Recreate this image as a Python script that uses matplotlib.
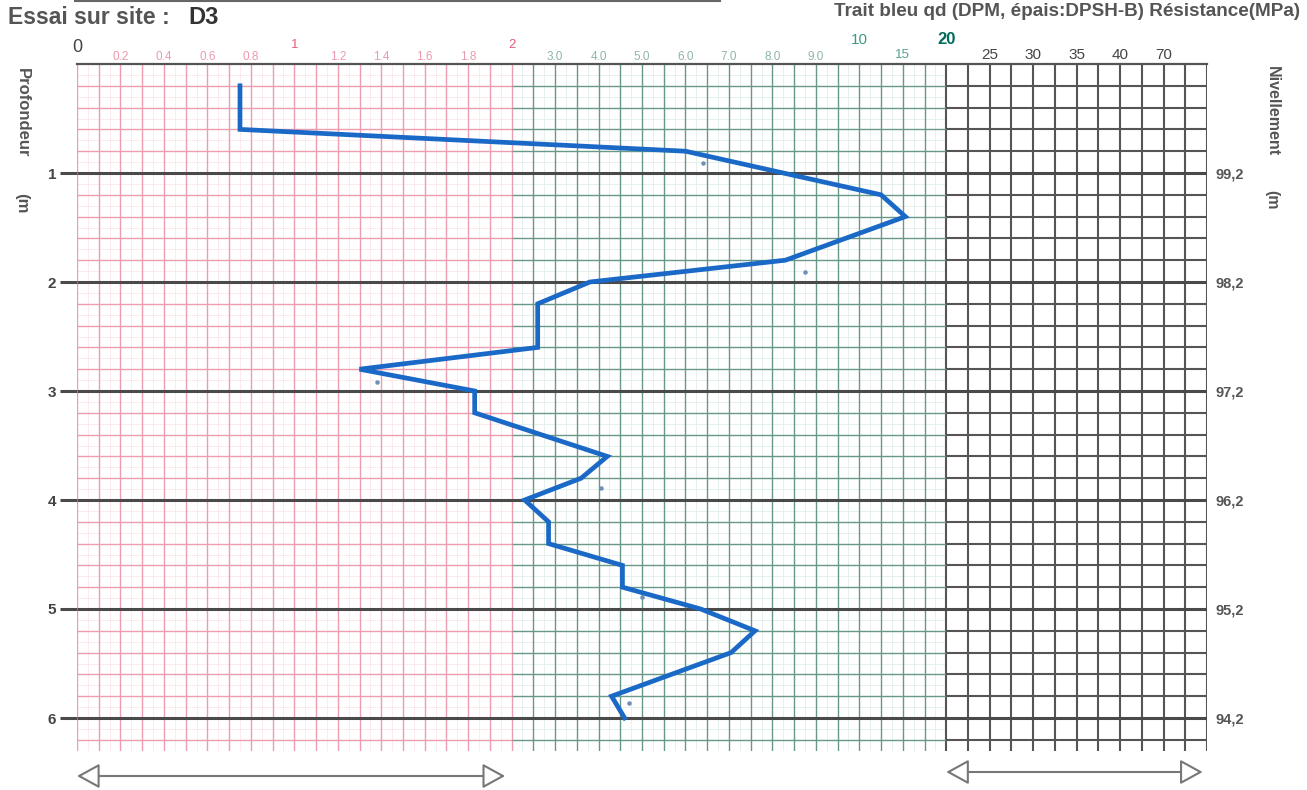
import numpy as np
import matplotlib.pyplot as plt
from matplotlib import transforms
from matplotlib.lines import Line2D

plt.rcParams['font.family'] = ['Liberation Sans', 'DejaVu Sans']

profondeur = [0.2, 0.6, 0.8, 1.2, 1.4, 1.8, 2.0, 2.2, 2.6, 2.8, 3.0, 3.2,
              3.6, 3.8, 4.0, 4.2, 4.4, 4.6, 4.8, 5.0, 5.2, 5.4, 5.8, 6.0]
qd = [0.75, 0.75, 6.0, 12.5, 15.3, 8.3, 3.8, 2.6, 2.6, 1.3, 1.83, 1.83,
      4.2, 3.6, 2.3, 2.85, 2.85, 4.55, 4.55, 6.35, 7.6, 7.05, 4.3, 4.6]

# petits points isolés
points_prof = [0.91, 1.91, 2.92, 3.89, 4.89, 5.86]
points_qd = [6.4, 8.75, 1.38, 4.05, 5.0, 4.7]

# graduations du haut
rose_val = [0.2, 0.4, 0.6, 0.8, 1.2, 1.4, 1.6, 1.8]
rose_lab = ['0.2', '0.4', '0.6', '0.8', '1.2', '1.4', '1.6', '1.8']
vert_val = [3, 4, 5, 6, 7, 8, 9]
vert_lab = ['3.0', '4.0', '5.0', '6.0', '7.0', '8.0', '9.0']
noir_val = [25, 30, 35, 40, 70]
noir_lab = ['25', '30', '35', '40', '70']

# profondeur / nivellement
prof_ticks = [1, 2, 3, 4, 5, 6]
niv_labels = ['99,2', '98,2', '97,2', '96,2', '95,2', '94,2']

# échelle de l'abaque : MPa -> nombre de cases
echelle_mpa = [0, 2, 10, 20, 40, 70, 100]
echelle_case = [0, 20, 36, 40, 48, 50, 52]


def fwd(v):
    return np.interp(v, echelle_mpa, echelle_case)


def inv(c):
    return np.interp(c, echelle_case, echelle_mpa)


W, H = 1307, 790
fig = plt.figure(figsize=(W / 100, H / 100), dpi=100)
x0, x1 = 77, 1207
y_top, pxm = 64, 109
ymax = 6.3
ax = fig.add_axes([x0 / W, 1 - (y_top + ymax * pxm) / H, (x1 - x0) / W, ymax * pxm / H])
ax.set_xscale('function', functions=(fwd, inv))
ax.set_xlim(0, 100)
ax.set_ylim(ymax, 0)

# --- quadrillage ---
cases = np.arange(0, 53)
demi = np.arange(0, 40) + 0.5
rose, rose_clair = '#ec9db0', '#fbe8ed'
vert, vert_clair = '#679888', '#e2efea'
gris = '#555555'

ax.vlines(inv(demi[demi < 20]), 0, ymax, color=rose_clair, lw=0.6, zorder=1)
ax.vlines(inv(demi[demi > 20]), 0, ymax, color=vert_clair, lw=0.6, zorder=1)
ax.vlines(inv(cases[cases <= 20]), 0, ymax, color=rose, lw=1.0, zorder=2)
ax.vlines(inv(cases[(cases > 20) & (cases < 40)]), 0, ymax, color=vert, lw=1.0, zorder=2)
ax.vlines(inv(cases[cases >= 40]), 0, ymax, color=gris, lw=1.5, zorder=2)

dixiemes = np.round(np.arange(0.1, ymax, 0.2), 2)
ax.hlines(dixiemes, 0, 2, color=rose_clair, lw=0.6, zorder=1)
ax.hlines(dixiemes, 2, 20, color=vert_clair, lw=0.6, zorder=1)
cinquiemes = [d for d in np.round(np.arange(0.2, ymax, 0.2), 2) if abs(d - round(d)) > 0.01]
ax.hlines(cinquiemes, 0, 2, color=rose, lw=1.0, zorder=2)
ax.hlines(cinquiemes, 2, 20, color=vert, lw=1.0, zorder=2)
ax.hlines(cinquiemes, 20, 100, color=gris, lw=1.5, zorder=2)
ax.hlines(prof_ticks, 0, 100, color='#4a4a4a', lw=2.2, zorder=3)

# --- courbe ---
ax.plot(qd, profondeur, color='#1b69c6', lw=3.4, solid_joinstyle='miter', zorder=5)
ax.scatter(points_qd, points_prof, s=5, color='#6f8fb8', zorder=4)

# --- axes ---
for s in ['left', 'right', 'bottom']:
    ax.spines[s].set_visible(False)
ax.spines['top'].set_color(gris)
ax.spines['top'].set_linewidth(1.6)
ax.set_xticks([])
ax.set_yticks(prof_ticks, [str(d) for d in prof_ticks])
ax.tick_params(axis='y', length=12, width=2.2, color='#4a4a4a', pad=3,
               labelsize=11, labelcolor='#444')
for t in ax.get_yticklabels():
    t.set_fontweight('bold')

sec = ax.secondary_yaxis('right')
sec.set_yticks(prof_ticks, niv_labels)
sec.tick_params(length=0, pad=6, labelsize=10.5, labelcolor='#555')
sec.spines['right'].set_visible(False)
for t in sec.get_yticklabels():
    t.set_fontweight('bold')

# --- textes du haut ---
tr = transforms.blended_transform_factory(ax.transData, fig.transFigure)


def yf(p):
    return 1 - p / H


ax.text(0, yf(47), '0', transform=tr, ha='center', va='center', fontsize=13, color='#444')
for v, lab in zip(rose_val, rose_lab):
    ax.text(v, yf(57), lab, transform=tr, ha='center', va='center', fontsize=8.5, color='#eb9aad')
for v in [1, 2]:
    ax.text(v, yf(45), str(v), transform=tr, ha='center', va='center', fontsize=9.5, color='#e35d7b')
for v, lab in zip(vert_val, vert_lab):
    ax.text(v, yf(57), lab, transform=tr, ha='center', va='center', fontsize=8.5, color='#8db5a8')
ax.text(10, yf(40), '10', transform=tr, ha='center', va='center', fontsize=11, color='#3c9987')
ax.text(15, yf(55), '15', transform=tr, ha='center', va='center', fontsize=9.5, color='#5aa090')
ax.text(20, yf(40), '20', transform=tr, ha='center', va='center', fontsize=12,
        fontweight='bold', color='#006b5a')
for v, lab in zip(noir_val, noir_lab):
    ax.text(v, yf(55), lab, transform=tr, ha='center', va='center', fontsize=11, color='#444')

fig.text(8 / W, yf(18), 'Essai sur site :', ha='left', va='center', fontsize=16.5,
         fontweight='bold', color='#555')
fig.text(188 / W, yf(18), 'D3', ha='left', va='center', fontsize=17,
         fontweight='bold', color='#333')
fig.text(1300 / W, yf(12), 'Trait bleu qd (DPM, épais:DPSH-B) Résistance(MPa)',
         ha='right', va='center', fontsize=13.6, fontweight='bold', color='#555')
fig.add_artist(Line2D([75 / W, 720 / W], [yf(1), yf(1)], transform=fig.transFigure,
                      color='#666', lw=1.5))

fig.text(22 / W, yf(68), 'Profondeur', rotation=270, ha='center', va='top',
         fontsize=12, fontweight='bold', color='#555')
fig.text(22 / W, yf(193), '(m', rotation=270, ha='center', va='top',
         fontsize=12, fontweight='bold', color='#555')
fig.text(1272 / W, yf(66), 'Nivellement', rotation=270, ha='center', va='top',
         fontsize=11.5, fontweight='bold', color='#555')
fig.text(1272 / W, yf(190), '(m', rotation=270, ha='center', va='top',
         fontsize=11.5, fontweight='bold', color='#555')

# --- flèches du bas ---
fleche = dict(arrowstyle='<|-|>,head_length=1.0,head_width=0.55', fc='white',
              ec='#777', lw=1.5, mutation_scale=14, shrinkA=0, shrinkB=0)
ax.annotate('', xy=(1.97, yf(776)), xytext=(-0.03, yf(776)), xycoords=tr, textcoords=tr,
            arrowprops=fleche, annotation_clip=False)
ax.annotate('', xy=(97, yf(772)), xytext=(20, yf(772)), xycoords=tr, textcoords=tr,
            arrowprops=fleche, annotation_clip=False)

fig.savefig('out.png', dpi=100)
